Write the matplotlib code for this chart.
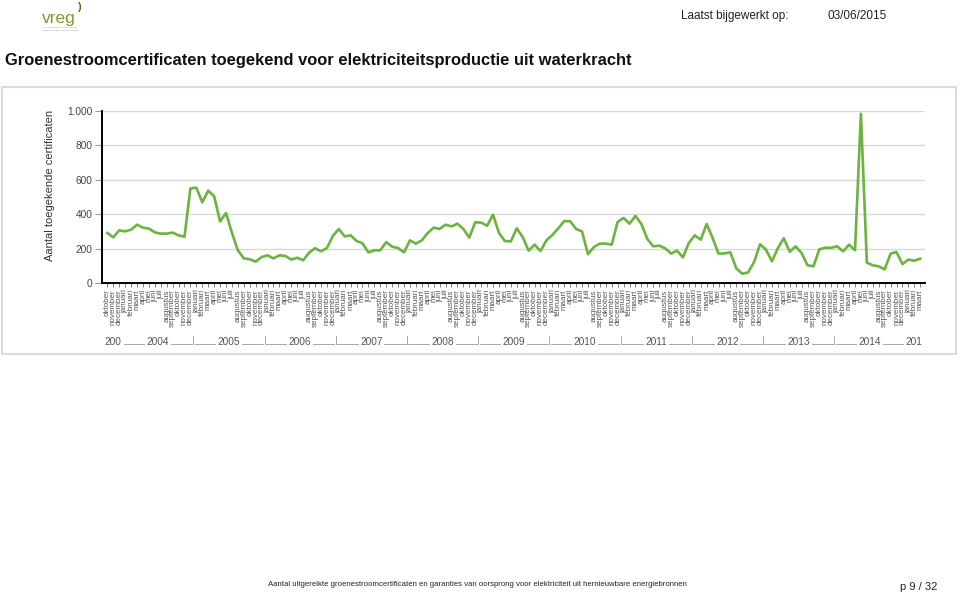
import numpy as np
import matplotlib
matplotlib.use("Agg")
import matplotlib.pyplot as plt
import matplotlib.patches as mpatches
import matplotlib.transforms as mtransforms

plt.rcParams['font.family'] = ['Liberation Sans', 'DejaVu Sans']

# -----------------------------------------------------------------------
# Data: monthly certificates, oktober 2003 .. maart 2015
# -----------------------------------------------------------------------
month_names = ["januari", "februari", "maart", "april", "mei", "juni", "juli",
               "augustus", "september", "oktober", "november", "december"]
first_month = 10   # oktober
first_year = 2003

certificates = [
    291, 265, 306,                                                    # 2003
    300, 310, 339, 322, 316, 295, 287, 287, 293, 277, 269, 550,       # 2004
    554, 469, 537, 504, 358, 407, 291, 190, 143, 138, 124, 151,       # 2005
    161, 143, 161, 157, 136, 147, 132, 176, 202, 184, 203, 273,       # 2006
    314, 271, 277, 244, 231, 178, 190, 190, 238, 211, 203, 178,       # 2007
    248, 229, 248, 291, 322, 314, 339, 329, 345, 314, 264, 353,       # 2008
    351, 333, 397, 291, 244, 242, 318, 267, 188, 223, 186, 248,       # 2009
    279, 318, 360, 359, 314, 300, 167, 209, 229, 229, 223, 355,       # 2010
    378, 345, 390, 343, 256, 213, 217, 202, 171, 188, 149, 233,       # 2011
    277, 252, 343, 262, 171, 172, 178, 85, 54, 62, 122, 225,          # 2012
    194, 126, 203, 260, 182, 213, 174, 103, 97, 196, 205, 205,        # 2013
    213, 184, 223, 190, 984, 118, 103, 97, 79, 171, 180, 110,         # 2014
    136, 130, 141,                                                    # 2015
]

year_labels = ["200", "2004", "2005", "2006", "2007", "2008", "2009",
               "2010", "2011", "2012", "2013", "2014", "201"]

y_ticks = [0, 200, 400, 600, 800, 1000]
y_ticklabels = ["0", "200", "400", "600", "800", "1.000"]

GREEN = "#6db33f"
GRID = "#d9d9d9"
TXT = "#444444"

# month labels + year of each point
labels, years = [], []
m, y = first_month, first_year
for _ in certificates:
    labels.append(month_names[m - 1])
    years.append(y)
    m += 1
    if m > 12:
        m, y = 1, y + 1

x = np.arange(len(certificates))

# -----------------------------------------------------------------------
# Figure
# -----------------------------------------------------------------------
W, H = 960, 595
fig = plt.figure(figsize=(W / 100, H / 100), dpi=100)


def fx(px):
    return px / W


def fy(py):
    return 1 - py / H


# panel border
fig.patches.append(mpatches.Rectangle((fx(2), fy(354)), fx(954), fy(87) - fy(354),
                                      transform=fig.transFigure, facecolor="none",
                                      edgecolor="#dcdcdc", lw=1.5, zorder=-1))

ax = fig.add_axes([fx(102), fy(283), fx(925) - fx(102), fy(111) - fy(283)])
ax.patch.set_alpha(0)
ax.plot(x, certificates, color=GREEN, lw=1.9, solid_joinstyle="round", zorder=3)

ax.set_ylim(0, 1000)
ax.set_xlim(-0.9, len(certificates) - 0.2)
ax.set_yticks(y_ticks)
ax.set_yticklabels(y_ticklabels, fontsize=7.3, color=TXT)
ax.set_xticks(x)
ax.set_xticklabels(labels, rotation=90, fontsize=5.8, color="#555555", va="top")
ax.tick_params(axis="x", length=3, width=0.6, color="#666666", pad=1.5)
ax.tick_params(axis="y", length=5, width=0.8, color="#999999", pad=2)
ax.grid(axis="y", color=GRID, lw=1)
ax.set_axisbelow(True)
for s in ["top", "right"]:
    ax.spines[s].set_visible(False)
ax.spines["left"].set_linewidth(1.4)
ax.spines["bottom"].set_linewidth(1.4)

fig.text(fx(50), fy(185), "Aantal toegekende certificaten", rotation=90,
         ha="center", va="center", fontsize=8, color="#333333")

# year row below the month labels
trans = mtransforms.blended_transform_factory(ax.transData, fig.transFigure)
yr = fy(342)
year_list = sorted(set(years))
for i, yv in enumerate(year_list):
    idx = [k for k, v in enumerate(years) if v == yv]
    x0, x1 = idx[0] - 0.5, idx[-1] + 0.5
    xc = (x0 + x1) / 2
    ax.plot([x0, x0], [yr - 0.004, yr + 0.01], transform=trans, color="#999999",
            lw=0.6, clip_on=False)
    if len(idx) == 12:
        ax.plot([x0 + 0.25, x1 - 0.25], [yr - 0.004, yr - 0.004], transform=trans,
                color="#999999", lw=0.6, clip_on=False)
    ax.text(xc, yr, year_labels[i], transform=trans, ha="center", va="center",
            fontsize=7.3, color="#555555", zorder=5,
            bbox=dict(facecolor="white", edgecolor="none", pad=1.2))
ax.plot([len(certificates) - 0.5] * 2, [yr - 0.004, yr + 0.01], transform=trans,
        color="#999999", lw=0.6, clip_on=False)

# header
fig.text(fx(42), fy(19), "vreg", fontsize=12.5, color="#7a9a2e", ha="left", va="center")
fig.text(fx(77), fy(7), ")", fontsize=8, color="#4d6b1a", fontweight="bold",
         ha="left", va="center")
fig.text(fx(43), fy(27), "VLAAMSE REGULATOR VAN DE", fontsize=1.6,
         color="#888888", ha="left", va="center")
fig.text(fx(43), fy(30), "ELEKTRICITEITS- EN GASMARKT", fontsize=1.6,
         color="#888888", ha="left", va="center")
fig.text(fx(681), fy(16), "Laatst bijgewerkt op:", fontsize=8.5, color="#222222",
         ha="left", va="center")
fig.text(fx(828), fy(16), "03/06/2015", fontsize=8.5, color="#222222",
         ha="left", va="center")
fig.text(fx(5), fy(60), "Groenestroomcertificaten toegekend voor elektriciteitsproductie uit waterkracht",
         fontsize=11.9, fontweight="bold", color="#111111", ha="left", va="center")

# footer
fig.text(fx(268), fy(585), "Aantal uitgereikte groenestroomcertificaten en garanties van oorsprong "
         "voor elektriciteit uit hernieuwbare energiebronnen",
         fontsize=5.55, color="#222222", ha="left", va="center")
fig.text(fx(900), fy(587), "p 9 / 32", fontsize=8, color="#222222", ha="left", va="center")

fig.savefig("out.png", dpi=100)
